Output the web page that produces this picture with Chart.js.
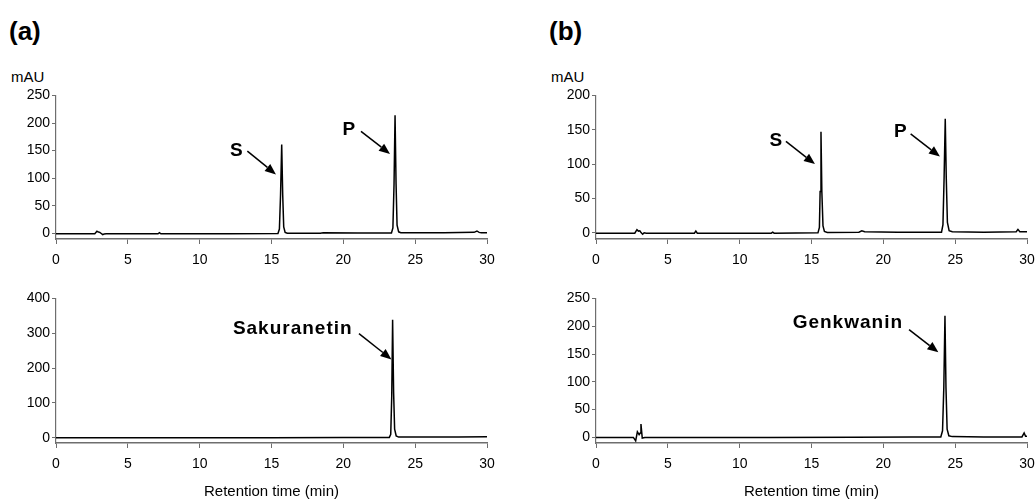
<!DOCTYPE html>
<html>
<head>
<meta charset="utf-8">
<script src="https://cdn.jsdelivr.net/npm/chart.js@4.4.1/dist/chart.umd.min.js"></script>
<style>
  body { margin: 0; background: #fff; overflow: hidden; width: 1036px; height: 501px; position: relative; font-family: "Liberation Sans", Arial, sans-serif; }
  canvas { position: absolute; }
  .panel { position: absolute; font-weight: bold; font-size: 26px; }
  .unit { position: absolute; font-size: 15px; }
</style>
</head>
<body>
<div class="panel" style="left:9px; top:16px;">(a)</div>
<div class="panel" style="left:549px; top:16px;">(b)</div>
<div class="unit" style="left:11px; top:68px;">mAU</div>
<div class="unit" style="left:551px; top:68px;">mAU</div>

<canvas id="a1" width="496" height="180" style="left:0; top:85px;"></canvas>
<canvas id="a2" width="496" height="213" style="left:0; top:288px;"></canvas>
<canvas id="b1" width="496" height="180" style="left:540px; top:85px;"></canvas>
<canvas id="b2" width="496" height="213" style="left:540px; top:288px;"></canvas>

<script>
// retention time (min) and absorbance (mAU)
const a1Time = [0, 1.5, 2.7, 2.85, 2.95, 3.05, 3.15, 3.25, 3.35, 3.5, 4.5, 7.1, 7.2, 7.3, 12, 15.45, 15.55, 15.63, 15.71, 15.78, 15.85, 15.95, 16.1, 18.4, 18.6, 21, 23.35, 23.45, 23.53, 23.6, 23.67, 23.74, 23.85, 24.0, 27, 29.1, 29.3, 29.45, 29.6, 30];
const a1Mau  = [-0.5, -0.5, -0.5, 4, 2.5, 2, 0, -2, -1, -0.5, -0.5, -0.5, 1.5, -0.5, -0.5, 0, 8, 70, 161, 70, 12, 2, 0.5, 0.5, 1.5, 1, 1, 10, 90, 214, 90, 15, 3, 1.5, 1.5, 2, 4.5, 2, 1.5, 1.5];

const a2Time = [0, 5, 10, 15, 20, 23.2, 23.3, 23.37, 23.43, 23.5, 23.57, 23.68, 23.85, 26, 28, 30];
const a2Mau  = [0, 0, 0, 0, 0.5, 1, 10, 120, 339, 130, 25, 5, 2, 2, 2.5, 3];

const b1Time = [0, 2.7, 2.85, 2.95, 3.05, 3.15, 3.25, 3.35, 3.5, 5, 6.85, 6.95, 7.05, 12.2, 12.3, 12.4, 15.45, 15.55, 15.6, 15.66, 15.72, 15.8, 15.9, 16.1, 18.3, 18.5, 18.7, 21, 24.05, 24.15, 24.23, 24.31, 24.38, 24.46, 24.58, 24.8, 27, 29.25, 29.37, 29.5, 30];
const b1Mau  = [-0.5, -0.5, 4.5, 2.5, 3, 0, -2, 0, -0.5, -0.5, -0.5, 2.5, -0.5, -0.5, 1, -0.5, 0, 8, 60, 147, 60, 10, 2, 0.5, 1, 3, 1.5, 1, 1, 12, 80, 166, 80, 15, 3, 1.5, 1, 1.5, 5, 1.5, 1.5];

const b2Time = [0, 2.6, 2.76, 2.88, 3.0, 3.08, 3.13, 3.22, 3.4, 6, 12, 18, 22, 24.0, 24.12, 24.21, 24.29, 24.36, 24.44, 24.56, 24.8, 27, 29.65, 29.8, 29.9, 30];
const b2Mau  = [0, 0, -6, 10, 5, 8, 24, -1, 0, 0, 0, 0.5, 1, 1, 12, 90, 219, 90, 15, 3, 1.5, 1, 1, 8, 2, 2];

const xTicks = [0, 5, 10, 15, 20, 25, 30];

// peak labels: text centre and arrow start/end, in data units
const a1Labels = [
  { text: 'S', tx: 12.58, ty: 149, x1: 13.32, y1: 149, x2: 15.31, y2: 107 },
  { text: 'P', tx: 20.41, ty: 188, x1: 21.23, y1: 185, x2: 23.25, y2: 144 }
];
const a2Labels = [
  { text: 'Sakuranetin', tx: 16.48, ty: 313, x1: 21.09, y1: 299, x2: 23.35, y2: 225 }
];
const b1Labels = [
  { text: 'S', tx: 12.55, ty: 134, x1: 13.22, y1: 133, x2: 15.24, y2: 100 },
  { text: 'P', tx: 21.22, ty: 146.5, x1: 21.9, y1: 144, x2: 23.94, y2: 111 }
];
const b2Labels = [
  { text: 'Genkwanin', tx: 17.53, ty: 206, x1: 21.79, y1: 194, x2: 23.83, y2: 153 }
];

const FONT = '"Liberation Sans", Arial, sans-serif';
const AXIS = '#6e6e6e';

const arrowLabels = {
  id: 'arrowLabels',
  afterDatasetsDraw(chart, args, opts) {
    const { ctx, scales: { x, y } } = chart;
    ctx.save();
    ctx.fillStyle = '#000';
    ctx.strokeStyle = '#000';
    ctx.lineWidth = 1.5;
    ctx.font = 'bold 19px ' + FONT;
    ctx.letterSpacing = '1px';
    ctx.textAlign = 'center';
    ctx.textBaseline = 'middle';
    for (const l of opts.items || []) {
      ctx.fillText(l.text, x.getPixelForValue(l.tx), y.getPixelForValue(l.ty));
      const sx = x.getPixelForValue(l.x1), sy = y.getPixelForValue(l.y1);
      const ex = x.getPixelForValue(l.x2), ey = y.getPixelForValue(l.y2);
      const ang = Math.atan2(ey - sy, ex - sx);
      const hl = 11, hw = 4.5;
      const bx = ex - hl * Math.cos(ang), by = ey - hl * Math.sin(ang);
      ctx.beginPath();
      ctx.moveTo(sx, sy);
      ctx.lineTo(bx, by);
      ctx.stroke();
      ctx.beginPath();
      ctx.moveTo(ex, ey);
      ctx.lineTo(bx + hw * Math.sin(ang), by - hw * Math.cos(ang));
      ctx.lineTo(bx - hw * Math.sin(ang), by + hw * Math.cos(ang));
      ctx.closePath();
      ctx.fill();
    }
    ctx.restore();
  }
};

function makeChart(id, times, values, labels, yMin, yMax, yStep, bottomAxis) {
  const pts = times.map((t, i) => ({ x: t, y: values[i] }));
  new Chart(document.getElementById(id), {
    type: 'line',
    data: {
      datasets: [{ data: pts, borderColor: '#000', borderWidth: 1.5, pointRadius: 0, tension: 0, fill: false }]
    },
    plugins: [arrowLabels],
    options: {
      responsive: false,
      animation: false,
      events: [],
      layout: { padding: { top: bottomAxis ? 10 : 9, right: 9, left: 0, bottom: 0 } },
      plugins: {
        legend: { display: false },
        tooltip: { enabled: false },
        arrowLabels: { items: labels }
      },
      scales: {
        x: {
          type: 'linear',
          min: 0, max: 30,
          afterBuildTicks: s => { s.ticks = xTicks.map(v => ({ value: v })); },
          afterFit: s => {
            s.height = bottomAxis ? 58 : 26;
            s.paddingLeft = 0;
            s.paddingRight = 0;
          },
          grid: { drawOnChartArea: false, drawTicks: true, tickLength: 5, color: AXIS, lineWidth: 1 },
          border: { color: AXIS, width: 1.5 },
          ticks: { color: '#000', font: { family: FONT, size: 14 }, padding: 8, maxRotation: 0 },
          title: bottomAxis
            ? { display: true, text: 'Retention time (min)', color: '#000', font: { family: FONT, size: 15 }, padding: { top: 0, bottom: 0 } }
            : { display: false }
        },
        y: {
          min: yMin, max: yMax,
          afterFit: s => { s.width = 56; },
          grid: { drawOnChartArea: false, drawTicks: true, tickLength: 4, color: AXIS, lineWidth: 1 },
          border: { color: AXIS, width: 1.2 },
          ticks: { stepSize: yStep, includeBounds: false, color: '#000', font: { family: FONT, size: 14 }, padding: 2 }
        }
      }
    }
  });
}

makeChart('a1', a1Time, a1Mau, a1Labels, -10, 250, 50, false);
makeChart('a2', a2Time, a2Mau, a2Labels, -15, 400, 100, true);
makeChart('b1', b1Time, b1Mau, b1Labels, -9, 200, 50, false);
makeChart('b2', b2Time, b2Mau, b2Labels, -10, 250, 50, true);
</script>
</body>
</html>
